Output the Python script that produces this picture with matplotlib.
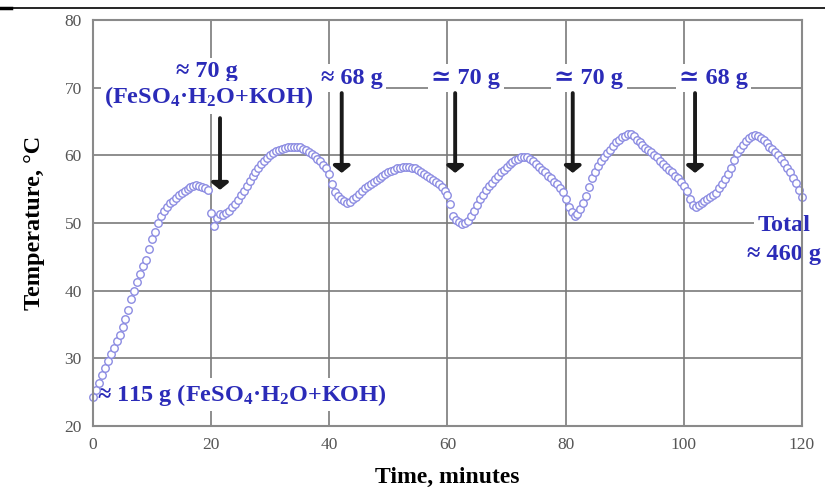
import numpy as np
import matplotlib
matplotlib.use("Agg")
import matplotlib.pyplot as plt
from matplotlib.lines import Line2D

plt.rcParams['font.family'] = ['Liberation Serif', 'DejaVu Serif']
plt.rcParams['mathtext.fontset'] = 'custom'
plt.rcParams['mathtext.rm'] = 'Liberation Serif:bold'
plt.rcParams['mathtext.it'] = 'Liberation Serif:bold'
plt.rcParams['mathtext.bf'] = 'Liberation Serif:bold'

# ---- data (temperature every 0.5 min) ----
time_min = np.arange(0, 120.5, 0.5)
temperature = [
    24.3, 25.3, 26.4, 27.5, 28.6, 29.6, 30.6, 31.6, 32.5, 33.5,
    34.6, 35.8, 37.2, 38.7, 40.0, 41.3, 42.5, 43.6, 44.6, 46.2,
    47.6, 48.7, 50.0, 51.1, 51.8, 52.4, 52.9, 53.3, 53.7, 54.1,
    54.4, 54.7, 55.0, 55.3, 55.5, 55.6, 55.5, 55.3, 55.1, 54.9,
    51.5, 49.5, 50.8, 51.3, 51.2, 51.5, 51.8, 52.3, 52.8, 53.4,
    54.1, 54.8, 55.5, 56.2, 56.9, 57.5, 58.1, 58.7, 59.2, 59.6,
    60.0, 60.3, 60.6, 60.8, 61.0, 61.1, 61.2, 61.3, 61.3, 61.3,
    61.2, 61.0, 60.8, 60.5, 60.2, 59.9, 59.5, 59.1, 58.6, 58.1,
    57.3, 55.8, 54.6, 54.0, 53.6, 53.2, 53.0, 53.1, 53.5, 53.9,
    54.3, 54.7, 55.1, 55.5, 55.8, 56.1, 56.4, 56.7, 56.9, 57.2,
    57.5, 57.7, 57.9, 58.1, 58.2, 58.3, 58.3, 58.3, 58.2, 58.1,
    57.9, 57.6, 57.3, 57.0, 56.7, 56.4, 56.1, 55.8, 55.3, 54.8,
    54.2, 52.8, 51.0, 50.4, 50.1, 49.9, 50.0, 50.3, 51.0, 51.8,
    52.7, 53.5, 54.2, 54.9, 55.4, 55.9, 56.5, 57.0, 57.5, 57.9,
    58.3, 58.7, 59.0, 59.3, 59.5, 59.7, 59.8, 59.8, 59.5, 59.1,
    58.7, 58.3, 57.9, 57.5, 57.0, 56.6, 56.1, 55.7, 55.2, 54.6,
    53.5, 52.4, 51.6, 51.0, 51.3, 52.0, 52.9, 54.0, 55.3, 56.6,
    57.6, 58.4, 59.1, 59.7, 60.3, 60.8, 61.4, 61.9, 62.3, 62.7,
    62.9, 63.1, 63.1, 62.8, 62.3, 61.9, 61.5, 61.1, 60.8, 60.5,
    60.1, 59.7, 59.2, 58.7, 58.3, 57.9, 57.5, 57.0, 56.6, 56.1,
    55.5, 54.8, 53.6, 52.6, 52.3, 52.6, 53.0, 53.3, 53.6, 53.9,
    54.2, 54.5, 55.1, 55.8, 56.5, 57.2, 58.2, 59.3, 60.3, 61.0,
    61.6, 62.1, 62.6, 62.9, 63.0, 62.9, 62.6, 62.2, 61.8, 61.3,
    60.9, 60.5, 60.0, 59.5, 58.8, 58.2, 57.5, 56.7, 55.9, 54.9,
    53.8,
]

# additions: arrow time, arrow start, arrow tip, label
add_times = [21.5, 42.1, 61.3, 81.2, 101.9]
add_starts = [65.5, 69.2, 69.2, 69.2, 69.2]
add_tips = [54.9, 57.4, 57.4, 57.4, 57.4]
add_labels = ["\u2248 70 g", "\u2248 68 g", "\u2243 70 g", "\u2243 70 g", "\u2243 68 g"]
add_label_x = [19.3, 43.8, 63.1, 83.9, 105.0]
add_label_y = [72.4, 71.4, 71.4, 71.4, 71.4]

x_ticks = [0, 20, 40, 60, 80, 100, 120]
y_ticks = [20, 30, 40, 50, 60, 70, 80]

blue = '#2b2bb8'

fig = plt.figure(figsize=(8.25, 4.93), dpi=100)
ax = fig.add_axes([0.1127, 0.1359, 0.8594, 0.8235])

ax.plot(time_min, temperature, linestyle='none', marker='o', markersize=5.4,
        markerfacecolor='white', markeredgecolor='#8c8ce2', markeredgewidth=1.0,
        zorder=2, clip_on=False)

ax.set_xlim(0, 120)
ax.set_ylim(20, 80)
ax.set_xticks(x_ticks)
ax.set_yticks(y_ticks)
ax.set_axisbelow(True)
ax.grid(True, color='#7a7a7a', linewidth=1.2)
for s in ax.spines.values():
    s.set_color('#8a8a8a')
    s.set_linewidth(1.5)
ax.tick_params(length=0, labelsize=12.5, colors='#555555', pad=8)

ax.set_xlabel("Time, minutes", fontsize=17, fontweight='bold', labelpad=10)
ax.set_ylabel("Temperature, \u00b0C", fontsize=17.5, fontweight='bold', labelpad=14)

box = dict(facecolor='white', edgecolor='none', pad=2.5)

for t, y0, y1 in zip(add_times, add_starts, add_tips):
    ax.annotate('', xy=(t, y1), xytext=(t, y0),
                arrowprops=dict(arrowstyle='-|>,head_length=0.4,head_width=0.5',
                                color='#1a1a1a', lw=2.8, shrinkA=0, shrinkB=0),
                zorder=3)

for lx, ly, lab in zip(add_label_x, add_label_y, add_labels):
    ax.text(lx, ly, lab, ha='center', va='center', fontsize=17.5, fontweight='bold',
            color=blue, bbox=box, zorder=1)

ax.text(19.6, 68.6, "(FeSO$_4$\u00b7H$_2$O+KOH)", ha='center', va='center',
        fontsize=17.5, fontweight='bold', color=blue, bbox=box, zorder=1)

ax.text(0.7, 24.6, "\u2248 115 g (FeSO$_4$\u00b7H$_2$O+KOH)", ha='left', va='center',
        fontsize=17.5, fontweight='bold', color=blue, bbox=box, zorder=1)

ax.text(117.0, 49.7, "Total", ha='center', va='center', fontsize=17.5,
        fontweight='bold', color=blue, bbox=box, zorder=1, clip_on=False)
ax.text(117.0, 45.3, "\u2248 460 g", ha='center', va='center', fontsize=17.5,
        fontweight='bold', color=blue, bbox=box, zorder=1, clip_on=False)

# header rule
fig.add_artist(Line2D([0, 1], [0.984, 0.984], color='black', lw=1.2,
                      transform=fig.transFigure))
fig.add_artist(Line2D([0, 0.013], [0.984, 0.984], color='black', lw=2.5,
                      transform=fig.transFigure))

fig.savefig("out.png", dpi=100)
